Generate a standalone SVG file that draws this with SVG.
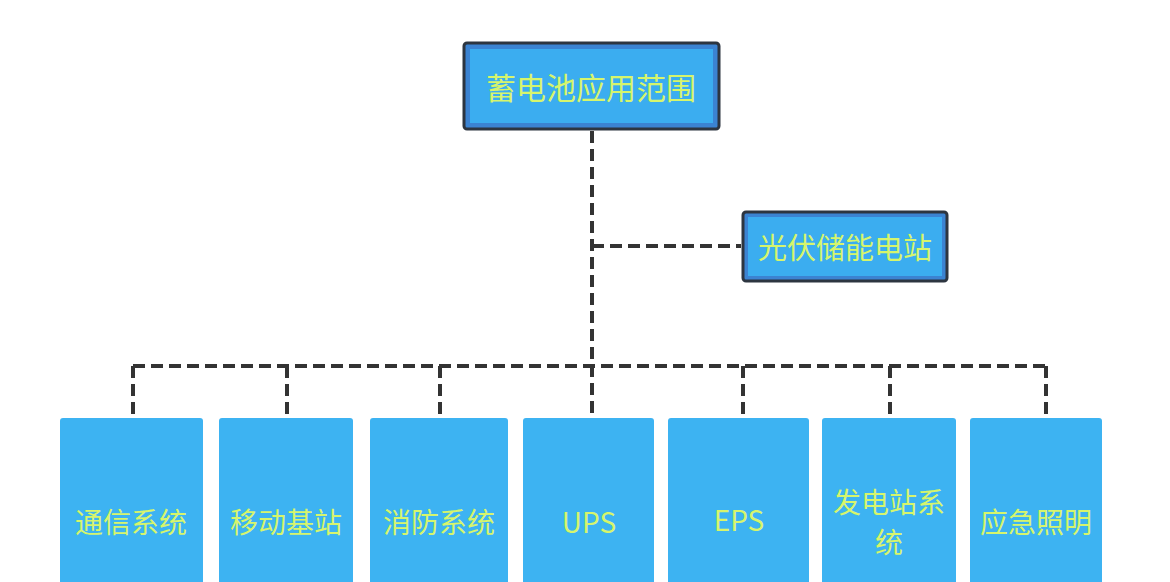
<svg xmlns="http://www.w3.org/2000/svg" width="1170" height="582" viewBox="0 0 1170 582">
<style>
.outer{fill:#3b83d2;stroke:#2d3540;stroke-width:3}
.inner{fill:#3badf0}
.leaf{fill:#3db3f2}
.t{font-family:"Noto Sans CJK SC","Noto Sans",sans-serif;font-size:28px;fill:#d6f56c;text-anchor:middle;dominant-baseline:central}
.c{fill:none;stroke:#333;stroke-width:4;stroke-dasharray:12 6}
</style>
<rect width="1170" height="582" fill="#fff"/>
<g id="connectors">
<path class="c" d="M592 131 V415"/>
<path class="c" d="M592 246 H741"/>
<path class="c" d="M133 366 H1046"/>
<path class="c" d="M133 366 V417"/>
<path class="c" d="M287 366 V417"/>
<path class="c" d="M440 366 V417"/>
<path class="c" d="M743 366 V417"/>
<path class="c" d="M890 366 V417"/>
<path class="c" d="M1046 366 V417"/>
</g>
<g id="root">
<rect class="outer" x="464" y="43" width="255" height="86" rx="3"/>
<rect class="inner" x="470" y="49" width="243" height="74"/>
<text class="t" x="591" y="86" style="font-size:30px">蓄电池应用范围</text>
</g>
<g id="pv">
<rect class="outer" x="743" y="212" width="204" height="69" rx="3"/>
<rect class="inner" x="748" y="217" width="194" height="59"/>
<text class="t" x="845" y="246" style="font-size:29px">光伏储能电站</text>
</g>
<g id="n1"><rect class="leaf" x="60" y="418" width="143" height="170" rx="3"/><text class="t" x="131" y="521">通信系统</text></g>
<g id="n2"><rect class="leaf" x="219" y="418" width="134" height="170" rx="3"/><text class="t" x="286" y="521">移动基站</text></g>
<g id="n3"><rect class="leaf" x="370" y="418" width="138" height="170" rx="3"/><text class="t" x="439" y="521">消防系统</text></g>
<g id="n4"><rect class="leaf" x="523" y="418" width="131" height="170" rx="3"/><text class="t" x="589" y="521">UPS</text></g>
<g id="n5"><rect class="leaf" x="668" y="418" width="141" height="170" rx="3"/><text class="t" x="739" y="519">EPS</text></g>
<g id="n6"><rect class="leaf" x="822" y="418" width="134" height="170" rx="3"/><text class="t" x="889" y="501">发电站系</text><text class="t" x="889" y="541">统</text></g>
<g id="n7"><rect class="leaf" x="970" y="418" width="132" height="170" rx="3"/><text class="t" x="1036" y="521">应急照明</text></g>
</svg>
